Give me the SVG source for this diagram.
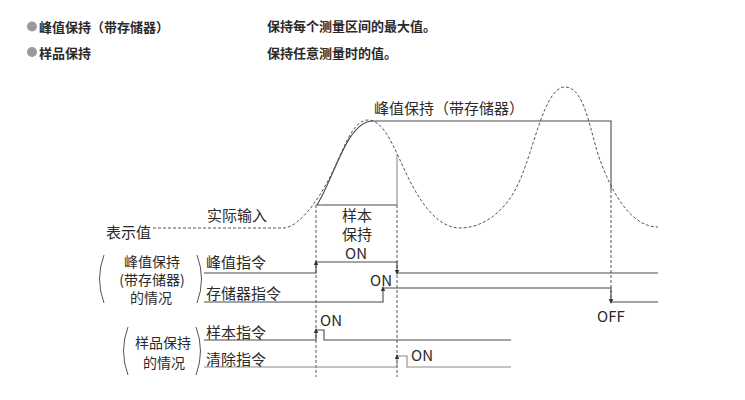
<svg xmlns="http://www.w3.org/2000/svg" width="745" height="400" viewBox="0 0 745 400">
<style>
text{font-family:"Noto Sans CJK SC","Liberation Sans",sans-serif;fill:#2a2a2a;}
.hd{font-size:13px;font-weight:bold;}
.lb{font-size:15px;}
.gl{font-size:14px;}
.ln{fill:none;stroke:#4a4a4a;stroke-width:1.1;}
.lg{fill:none;stroke:#8a8a8a;stroke-width:1.1;}
.dash{fill:none;stroke:#555;stroke-width:1;stroke-dasharray:3 2;}
.br{fill:none;stroke:#555;stroke-width:1;}
.ah{fill:#333;}
</style>
<rect width="745" height="400" fill="#fff"/>
<g id="header">
<circle cx="32" cy="26.5" r="5" fill="#9a9a9a"/>
<text class="hd" x="39" y="31.5">峰值保持（带存储器）</text>
<text class="hd" x="267" y="31">保持每个测量区间的最大值。</text>
<circle cx="32" cy="52" r="5" fill="#9a9a9a"/>
<text class="hd" x="39" y="57.5">样品保持</text>
<text class="hd" x="267" y="57.5">保持任意测量时的值。</text>
</g>
<g id="connectors">
<path id="display-curve" class="dash" d="M153,228 L283,228 C300,228 323,195 338,160 C348,137 356,120 368,120 C381,120 390,138 400,160 C410,182 430,228 460,228 C480,228 505,215 520,180 C535,145 545,87 565,87 C585,87 590,132 600,160 C611,190 630,227 658,227"/>
<path id="peak-hold" class="ln" d="M317,205 C335,176 347,121 373,121 L611,121 L611,190"/>
<path class="dash" d="M611,190 L611,298"/>
<path id="sample-hold" class="ln" d="M316,205 L397,205"/>
<path class="lg" d="M397,205 L397,154"/>
<path class="dash" d="M316,205 L316,377"/>
<path class="dash" d="M397,205 L397,377"/>
<path id="peak-cmd" class="ln" d="M204,273 L316,273 L316,262 L397,262 L397,273 L658,273"/>
<path id="store-cmd" class="ln" d="M204,302 L383,302 L383,288 L611,288 L611,302 L658,302"/>
<path id="sample-cmd" class="ln" d="M204,340 L316,340 L316,330 L324,330 L324,340 L511,340"/>
<path id="clear-cmd" class="lg" d="M204,367 L397,367 L397,356 L407,356 L407,367 L511,367"/>
<polygon class="ah" points="316,260 313.8,265 318.2,265"/>
<polygon class="ah" points="397,275 394.8,270 399.2,270"/>
<polygon class="ah" points="383,286 380.8,291 385.2,291"/>
<polygon class="ah" points="611,304 608.8,299 613.2,299"/>
<polygon class="ah" points="316,328 313.8,333 318.2,333"/>
<polygon class="ah" points="397,354 394.8,359 399.2,359"/>
</g>
<g id="peak-label"><text class="lb" x="374" y="114" font-size="14.6">峰值保持（带存储器）</text></g>
<g id="sample-label">
<text class="lb" x="357" y="221" text-anchor="middle">样本</text>
<text class="lb" x="357" y="240" text-anchor="middle">保持</text>
<text class="lb" x="356" y="259" text-anchor="middle">ON</text>
</g>
<g id="display-label">
<text class="lb" x="106" y="237.5">表示值</text>
<text class="lb" x="207" y="220.5">实际输入</text>
</g>
<g id="peak-group">
<path class="br" d="M104,255 Q95,279 104,303"/>
<path class="br" d="M197,255 Q206,279 197,303"/>
<text class="gl" x="152" y="267" text-anchor="middle">峰值保持</text>
<text class="gl" x="152" y="285" text-anchor="middle">(带存储器)</text>
<text class="gl" x="151" y="303" text-anchor="middle">的情况</text>
<text class="lb" x="206" y="267.5">峰值指令</text>
<text class="lb" x="206" y="298.5">存储器指令</text>
<text class="lb" x="370" y="285.5">ON</text>
<text class="lb" x="597" y="321.5">OFF</text>
</g>
<g id="sample-group">
<path class="br" d="M128,327 Q119,351 128,375"/>
<path class="br" d="M196,327 Q205,351 196,375"/>
<text class="gl" x="163" y="348" text-anchor="middle">样品保持</text>
<text class="gl" x="164" y="368" text-anchor="middle">的情况</text>
<text class="lb" x="206" y="337.5">样本指令</text>
<text class="lb" x="206" y="364.5">清除指令</text>
<text class="lb" x="320" y="326">ON</text>
<text class="lb" x="411" y="360.5">ON</text>
</g>
</svg>
